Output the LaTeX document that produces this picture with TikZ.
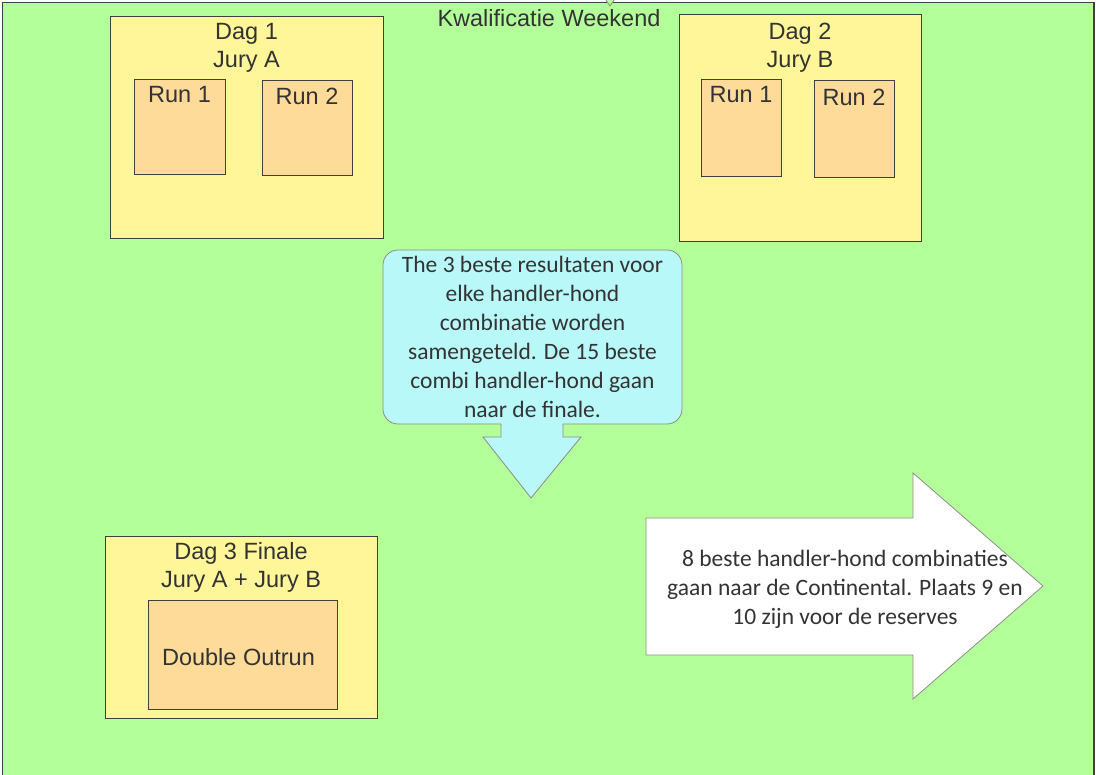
\documentclass[tikz,border=0pt]{standalone}
\usepackage{fontspec}
\setmainfont{Liberation Sans}
\newfontfamily\calibri{Carlito}
\usetikzlibrary{positioning}
\definecolor{field}{RGB}{179,255,153}
\definecolor{dagfill}{RGB}{255,246,153}
\definecolor{runfill}{RGB}{255,219,153}
\definecolor{notefill}{RGB}{185,248,248}
\definecolor{ink}{RGB}{51,51,51}
\definecolor{edge}{RGB}{64,64,64}

\begin{document}
\begin{tikzpicture}[x=1pt, y=-1pt,
 every text node part/.style={align=center},
dagbox/.style={rectangle, inner sep=0pt, draw=edge, fill=dagfill, line width=0.9pt},
runbox/.style={rectangle, inner sep=0pt, draw=edge, fill=runfill, line width=0.9pt},
txt/.style={inner sep=0pt, text=ink, font=\fontsize{23.5}{28}\selectfont},
cal/.style={inner sep=0pt, text=ink, font=\calibri\fontsize{23.5}{29}\selectfont},
outline/.style={draw=gray!90, line width=0.8pt}]

	\useasboundingbox (0,0) rectangle (1096,775);
	\draw[draw=edge, line width=1.5pt, fill=field] (2.5,2.5) rectangle (1094,790);
	\draw[outline, fill=field] (606,0) -- (610,6) -- (614,0);
	\node[txt, anchor=north] (title) at (549,9) {Kwalificatie Weekend};

	\node[dagbox, minimum width=273pt, minimum height=222pt] (dag1) at (246.5,127) {};
	\node[runbox, minimum width=91pt, minimum height=95pt] (run11) at (179.5,126.5) {};
	\node[runbox, minimum width=90pt, minimum height=95pt] (run12) at (307,127.5) {};
	\node[txt, below=8pt of dag1.north] (dag1t) {Dag 1\\Jury A};
	\node[txt, below=8pt of run11.north] (run11t) {Run 1};
	\node[txt, below=8pt of run12.north] (run12t) {Run 2};

	\node[dagbox, minimum width=242pt, minimum height=227pt] (dag2) at (800,127.5) {};
	\node[runbox, minimum width=80pt, minimum height=97pt] (run21) at (741,127.5) {};
	\node[runbox, minimum width=80pt, minimum height=97pt] (run22) at (854,128.5) {};
	\node[txt, below=9pt of dag2.north] (dag2t) {Dag 2\\Jury B};
	\node[txt, below=8pt of run21.north] (run21t) {Run 1};
	\node[txt, below=9pt of run22.north] (run22t) {Run 2};

	\node[dagbox, minimum width=272pt, minimum height=182pt] (dag3) at (241,627) {};
	\node[runbox, minimum width=189pt, minimum height=109pt] (outrun) at (242.5,654.5) {};
	\node[txt, below=7pt of dag3.north] (dag3t) {Dag 3 Finale\\Jury A + Jury B};
	\node[txt, anchor=north] (outrunt) at (238.5,648) {Double Outrun};

	\draw[outline, fill=notefill, rounded corners=15pt] (383,250) rectangle (682,424);
	\fill[notefill] (501,420) -- (501,437) -- (483,437) -- (531,498) -- (581,437) -- (563,437) -- (563,420) -- cycle;
	\draw[outline] (501,424) -- (501,437) -- (483,437) -- (531,498) -- (581,437) -- (563,437) -- (563,424);
	\node[cal, anchor=north] (sum) at (532.5,256) {The 3 beste resultaten voor\\ elke handler-hond\\ combinatie worden\\ samengeteld. De 15 beste\\ combi handler-hond gaan\\ naar de finale.};

	\draw[outline, fill=white] (646,518) -- (913,518) -- (913,473) -- (1043,586) -- (913,699) -- (913,655) -- (646,655) -- cycle;
	\node[cal, anchor=north] (cont) at (845,550) {8 beste handler-hond combinaties\\ gaan naar de Continental. Plaats 9 en\\ 10 zijn voor de reserves};
\end{tikzpicture}
\end{document}
